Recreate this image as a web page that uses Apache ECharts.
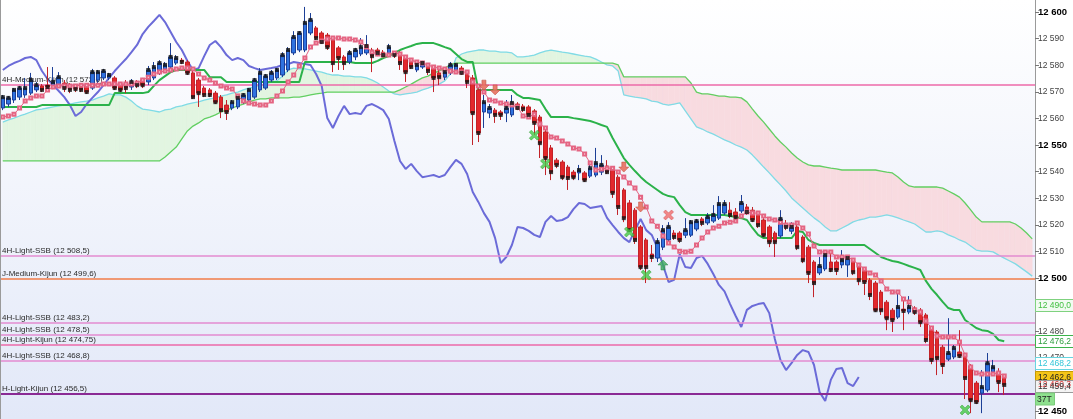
<!DOCTYPE html>
<html><head><meta charset="utf-8">
<script src="https://cdn.jsdelivr.net/npm/echarts@6/dist/echarts.min.js"></script>
<style>html,body{margin:0;padding:0;background:#fff}#c{width:1073px;height:419px}</style>
</head><body><div id="c"></div><script>
const opens = [12563.9,12565.4,12566.9,12568.0,12568.8,12569.5,12570.7,12572.2,12572.5,12571.8,
12572.5,12573.3,12572.5,12572.2,12572.5,12572.2,12571.4,12574.4,12575.2,12575.2,
12575.2,12572.5,12572.5,12571.8,12573.7,12574.4,12573.7,12575.2,12577.1,12578.2,
12579.3,12580.8,12581.9,12581.2,12577.1,12574.4,12571.4,12570.7,12569.5,12568.0,
12565.0,12563.9,12564.3,12566.1,12566.9,12568.0,12570.7,12571.4,12574.4,12575.2,
12576.3,12578.2,12584.6,12585.7,12585.7,12592.1,12594.0,12592.1,12591.3,12589.5,
12586.5,12583.1,12581.2,12583.1,12584.2,12584.6,12585.7,12585.7,12584.9,12583.8,
12584.6,12584.6,12582.7,12581.2,12578.2,12579.3,12580.1,12578.9,12577.1,12575.5,
12577.1,12577.4,12578.9,12577.1,12575.2,12570.7,12562.4,12562.0,12563.1,12562.4,
12562.0,12561.3,12565.4,12564.6,12564.3,12562.8,12560.5,12554.9,12548.9,12544.3,
12543.6,12541.7,12539.8,12539.5,12539.5,12538.3,12538.7,12539.8,12542.1,12541.3,
12537.9,12533.1,12528.2,12525.5,12519.2,12514.3,12509.0,12507.5,12511.6,12514.3,
12516.9,12516.9,12516.1,12516.1,12518.4,12522.2,12520.7,12521.4,12522.5,12524.4,
12525.5,12524.8,12525.2,12526.7,12525.5,12524.4,12521.8,12519.2,12516.9,12515.8,
12520.3,12517.6,12519.2,12515.4,12511.6,12506.0,12501.9,12503.4,12506.0,12506.0,
12504.9,12504.9,12506.7,12504.5,12503.0,12499.2,12498.1,12494.7,12490.9,12487.9,
12485.3,12488.3,12487.2,12488.7,12487.9,12486.1,12481.2,12479.7,12474.0,12469.5,
12470.3,12472.2,12471.0,12466.9,12460.5,12456.7,12457.9,12464.6,12464.6,12463.1];
const highs = [12568.8,12568.4,12571.4,12572.2,12575.2,12577.1,12573.7,12572.9,12579.3,12579.3,
12577.4,12574.4,12573.3,12572.9,12573.3,12572.9,12578.6,12578.2,12578.6,12577.1,
12575.9,12573.7,12574.4,12574.8,12574.4,12575.2,12579.7,12581.2,12581.9,12581.2,
12588.3,12583.8,12582.7,12581.9,12578.2,12575.2,12572.2,12571.4,12570.3,12568.8,
12566.9,12566.9,12568.4,12569.5,12571.4,12575.2,12578.9,12576.7,12578.2,12578.9,
12584.9,12586.8,12592.8,12592.8,12601.9,12599.6,12594.7,12592.8,12592.1,12590.2,
12587.2,12583.8,12585.7,12586.5,12590.2,12591.3,12586.5,12586.5,12585.7,12588.0,
12585.3,12585.3,12583.4,12581.9,12581.2,12581.6,12580.8,12579.7,12578.2,12578.2,
12581.2,12580.8,12579.7,12577.8,12576.3,12571.4,12568.8,12565.4,12563.9,12563.1,
12566.9,12568.8,12566.1,12565.4,12565.0,12563.5,12561.3,12555.6,12550.0,12545.1,
12544.3,12542.5,12540.6,12542.5,12540.2,12542.5,12548.9,12546.2,12544.3,12542.1,
12538.7,12533.8,12529.3,12526.3,12519.9,12515.0,12512.4,12515.0,12519.9,12521.0,
12518.0,12517.6,12522.5,12521.8,12522.2,12522.9,12524.4,12527.4,12530.8,12529.3,
12528.5,12526.3,12531.2,12527.8,12526.7,12525.2,12522.5,12519.9,12517.6,12525.5,
12521.8,12521.0,12521.0,12516.1,12512.4,12506.7,12507.9,12509.8,12509.4,12506.7,
12510.5,12508.6,12507.5,12505.2,12503.7,12500.0,12498.9,12495.5,12491.7,12488.7,
12494.3,12492.8,12493.2,12489.4,12488.7,12486.8,12481.9,12480.4,12474.8,12484.9,
12474.8,12480.4,12471.8,12467.6,12461.3,12465.4,12471.8,12469.2,12466.1,12463.9];
const lows = [12563.1,12564.3,12565.8,12566.9,12567.7,12568.8,12569.9,12569.9,12571.0,12571.0,
12571.8,12569.9,12569.5,12569.9,12569.9,12569.2,12570.7,12573.3,12574.4,12574.4,
12570.7,12569.9,12569.5,12570.7,12571.4,12571.4,12572.5,12574.4,12576.3,12577.4,
12578.6,12580.1,12580.4,12576.3,12567.3,12564.3,12568.0,12568.0,12565.4,12560.1,
12559.4,12563.1,12563.5,12565.4,12566.1,12567.3,12569.9,12570.7,12573.7,12574.4,
12575.5,12577.4,12583.8,12584.9,12584.9,12591.3,12589.5,12588.0,12585.7,12577.4,
12578.2,12578.2,12580.4,12581.9,12583.4,12583.8,12577.4,12583.4,12583.1,12583.1,
12582.7,12578.2,12573.7,12578.6,12577.4,12578.6,12576.3,12569.9,12572.5,12574.4,
12576.3,12576.7,12576.3,12571.4,12550.0,12551.1,12556.4,12560.1,12558.3,12559.4,
12558.6,12560.5,12563.1,12562.4,12560.5,12553.7,12545.1,12538.7,12536.8,12541.3,
12536.8,12533.1,12536.8,12536.8,12536.1,12537.6,12537.9,12538.7,12539.1,12530.1,
12523.7,12521.0,12517.3,12512.8,12503.0,12498.1,12506.0,12506.0,12510.5,12513.5,
12514.3,12513.2,12515.0,12515.4,12517.6,12519.5,12519.9,12520.7,12521.8,12523.7,
12522.5,12521.8,12524.4,12523.7,12521.0,12518.8,12515.4,12511.6,12507.9,12515.0,
12518.0,12516.5,12510.5,12505.6,12498.1,12492.8,12501.1,12502.6,12502.2,12501.1,
12503.7,12500.4,12501.1,12497.3,12493.6,12491.7,12487.2,12486.1,12480.4,12479.7,
12484.6,12480.4,12486.4,12486.1,12481.6,12475.5,12467.6,12463.5,12463.9,12468.8,
12469.5,12469.9,12454.5,12449.2,12452.6,12449.2,12457.1,12463.9,12457.1,12456.0];
const closes = [12568.0,12567.7,12570.7,12571.4,12571.4,12574.4,12572.5,12570.7,12571.8,12573.7,
12575.5,12571.4,12570.7,12571.0,12570.7,12569.9,12577.4,12577.4,12577.8,12576.3,
12571.4,12570.7,12571.4,12573.7,12572.5,12572.5,12578.2,12579.3,12580.8,12580.1,
12583.1,12582.7,12581.2,12577.1,12568.0,12569.5,12568.8,12568.8,12566.1,12563.1,
12562.4,12566.1,12567.7,12568.8,12570.7,12574.4,12577.1,12575.9,12577.1,12578.2,
12583.8,12585.7,12590.6,12592.1,12595.9,12597.0,12590.2,12588.7,12586.8,12580.8,
12582.7,12580.8,12584.6,12585.7,12586.8,12587.2,12583.4,12584.6,12583.8,12586.8,
12583.8,12580.8,12577.4,12579.3,12580.1,12580.8,12577.8,12575.2,12575.5,12577.4,
12580.1,12580.1,12577.1,12573.7,12562.0,12554.5,12566.1,12563.9,12561.3,12561.3,
12563.9,12565.8,12563.9,12563.5,12561.3,12558.3,12550.7,12545.1,12539.8,12542.5,
12537.9,12537.6,12537.9,12540.6,12536.8,12541.3,12543.2,12542.5,12539.8,12532.0,
12526.7,12522.5,12518.0,12514.3,12504.1,12504.1,12507.9,12513.5,12518.0,12519.2,
12515.4,12514.3,12518.0,12521.0,12521.4,12520.7,12522.9,12523.7,12527.8,12527.8,
12523.7,12522.9,12528.2,12524.8,12521.8,12519.9,12516.1,12513.5,12513.5,12522.2,
12519.2,12519.2,12511.6,12506.7,12501.9,12498.1,12504.5,12508.6,12503.0,12503.0,
12506.7,12507.5,12502.2,12499.2,12498.5,12493.6,12487.9,12487.9,12484.9,12484.2,
12489.1,12487.6,12489.1,12487.2,12483.4,12476.7,12469.2,12469.9,12467.3,12471.8,
12473.7,12470.7,12462.4,12454.1,12453.4,12459.0,12468.0,12466.5,12460.9,12459.8];
const tenkan = [12560.5,12560.9,12561.6,12563.9,12566.5,12567.7,12568.4,12568.4,12570.7,12571.8,
12572.2,12572.2,12572.2,12572.2,12572.5,12572.5,12572.5,12572.5,12572.9,12572.9,
12572.9,12572.9,12572.9,12572.9,12573.3,12574.4,12575.5,12576.7,12577.4,12577.8,
12578.2,12578.6,12578.9,12578.9,12578.6,12576.7,12575.2,12574.4,12573.3,12572.2,
12571.4,12571.0,12568.4,12566.5,12565.8,12565.4,12565.0,12565.0,12566.5,12568.4,
12570.3,12573.7,12576.3,12579.7,12582.7,12586.8,12588.3,12589.1,12589.8,12590.2,
12590.2,12589.8,12589.8,12589.5,12588.7,12586.8,12584.9,12584.2,12583.8,12583.8,
12584.6,12584.2,12583.1,12581.9,12581.2,12580.8,12580.1,12579.3,12578.9,12578.6,
12577.8,12577.4,12577.4,12577.4,12573.7,12572.2,12569.9,12566.9,12566.5,12565.8,
12565.4,12565.0,12564.3,12560.9,12560.5,12561.6,12557.9,12556.4,12553.0,12552.6,
12551.5,12550.4,12548.9,12548.5,12546.6,12543.2,12540.6,12541.0,12541.3,12541.3,
12539.8,12538.0,12535.7,12533.8,12530.4,12526.7,12521.4,12519.5,12515.8,12513.2,
12511.7,12510.1,12509.8,12510.1,12512.4,12515.0,12517.3,12518.8,12519.5,12520.7,
12521.0,12521.4,12523.3,12524.8,12524.4,12524.4,12523.3,12522.2,12521.8,12521.0,
12519.9,12519.9,12520.7,12518.8,12516.5,12512.0,12509.8,12509.8,12509.8,12507.9,
12507.9,12507.9,12506.8,12504.9,12503.4,12501.9,12501.1,12498.9,12495.9,12494.7,
12494.7,12492.1,12491.0,12488.0,12487.2,12483.8,12481.2,12478.2,12477.8,12477.8,
12477.8,12475.9,12471.1,12466.5,12464.3,12463.9,12463.9,12463.9,12464.3,12463.2];
const kijun = [12564.3,12564.3,12564.3,12564.3,12564.3,12564.3,12564.3,12565.0,12565.0,12565.0,
12565.0,12565.0,12565.0,12565.0,12565.0,12565.0,12565.0,12565.0,12565.0,12565.0,
12569.5,12569.5,12569.5,12569.5,12569.5,12569.5,12569.9,12572.2,12574.4,12575.9,
12577.4,12578.2,12578.2,12578.2,12578.2,12578.2,12578.2,12575.5,12575.5,12575.5,
12573.7,12573.7,12573.7,12573.7,12573.7,12573.7,12573.7,12573.7,12573.7,12573.7,
12573.7,12573.7,12573.7,12573.7,12581.2,12581.2,12581.2,12581.2,12581.2,12581.2,
12581.2,12581.2,12581.2,12580.8,12580.8,12580.8,12580.8,12581.6,12582.7,12583.4,
12584.6,12585.7,12586.5,12587.2,12588.0,12588.3,12588.3,12588.3,12587.6,12586.8,
12586.1,12584.2,12582.3,12581.2,12581.2,12570.7,12570.7,12570.7,12570.7,12570.7,
12570.7,12570.7,12568.8,12567.7,12567.7,12567.3,12566.9,12563.5,12560.5,12560.5,
12560.5,12560.5,12560.1,12559.8,12559.4,12559.0,12558.3,12557.5,12556.8,12552.6,
12548.9,12545.1,12542.5,12540.2,12538.0,12536.1,12534.6,12533.1,12531.6,12530.8,
12530.4,12527.4,12524.8,12523.7,12523.7,12523.7,12523.7,12523.7,12523.7,12523.7,
12523.3,12522.9,12522.5,12521.8,12518.8,12516.2,12515.0,12515.0,12515.0,12515.0,
12515.0,12515.0,12517.7,12517.3,12514.3,12513.2,12512.4,12512.4,12512.4,12512.4,
12512.4,12512.4,12512.4,12512.4,12512.4,12510.9,12509.4,12507.9,12507.1,12506.4,
12506.0,12505.3,12504.5,12503.8,12503.0,12498.9,12495.9,12493.6,12491.0,12488.7,
12488.0,12488.0,12484.2,12482.7,12481.2,12480.4,12480.1,12479.0,12476.7,12476.2];
const chikou = [12578.2,12579.7,12580.8,12581.6,12582.7,12583.1,12581.9,12577.8,12574.8,12572.5,
12570.3,12568.0,12565.0,12560.9,12562.4,12565.4,12567.7,12569.9,12572.5,12575.2,
12577.8,12580.1,12582.3,12584.9,12587.6,12591.7,12594.4,12596.6,12598.9,12596.2,
12592.5,12588.7,12585.7,12581.6,12578.2,12578.9,12583.4,12587.6,12589.1,12586.8,
12583.8,12581.9,12582.7,12581.9,12579.7,12578.9,12578.2,12578.6,12578.9,12579.3,
12580.1,12580.4,12581.2,12580.8,12580.4,12580.1,12576.7,12572.2,12560.1,12556.4,
12560.9,12564.7,12561.6,12562.0,12561.6,12564.7,12565.4,12564.3,12563.1,12559.8,
12551.5,12544.0,12541.0,12542.9,12540.2,12537.9,12538.3,12538.7,12537.9,12538.7,
12541.7,12544.4,12542.9,12539.1,12532.3,12528.6,12524.4,12521.1,12515.0,12505.6,
12507.9,12512.4,12519.2,12518.8,12517.7,12516.2,12515.4,12521.1,12523.3,12521.4,
12521.8,12522.9,12525.9,12528.2,12527.8,12526.3,12526.7,12527.1,12522.6,12519.9,
12517.3,12515.0,12513.5,12518.0,12522.2,12518.0,12516.2,12511.3,12504.9,12498.5,
12499.3,12509.0,12504.1,12503.8,12507.5,12508.3,12505.3,12501.5,12497.4,12495.0,
12490.2,12485.7,12481.6,12488.0,12489.5,12490.2,12490.6,12486.8,12477.1,12469.2,
12465.4,12468.1,12471.1,12472.9,12472.2,12467.3,12457.1,12453.8,12461.7,12465.8,
12466.2,12460.5,12459.4,12462.8];
const ssa = [12558.6,12559.4,12560.1,12560.9,12561.6,12562.4,12563.2,12563.5,12563.9,12564.3,
12564.7,12565.0,12565.4,12565.8,12566.2,12566.5,12566.9,12567.7,12568.4,12569.2,
12568.8,12568.8,12568.0,12566.5,12564.7,12563.5,12563.2,12562.8,12562.4,12563.2,
12563.5,12564.3,12564.7,12565.4,12565.8,12566.2,12566.9,12567.3,12567.7,12568.4,
12568.8,12569.5,12569.9,12570.7,12571.4,12571.8,12572.5,12572.9,12573.7,12574.1,
12575.9,12578.2,12578.9,12578.6,12578.6,12578.2,12577.8,12577.4,12576.7,12576.3,
12576.3,12575.9,12575.9,12575.6,12575.6,12575.2,12574.4,12573.3,12571.8,12570.3,
12569.2,12568.8,12569.2,12569.5,12569.9,12570.7,12571.4,12572.2,12572.9,12574.1,
12576.7,12582.7,12584.2,12584.9,12585.3,12585.7,12585.7,12585.3,12585.3,12584.9,
12584.9,12584.6,12583.1,12583.1,12583.4,12583.8,12584.6,12585.3,12585.7,12585.3,
12584.9,12584.6,12584.2,12583.8,12583.4,12583.1,12582.3,12581.2,12580.1,12579.7,
12577.8,12568.8,12568.4,12568.0,12567.7,12567.3,12566.5,12566.2,12565.4,12565.0,
12565.4,12565.8,12562.8,12559.8,12556.8,12556.0,12554.9,12554.1,12553.0,12551.9,
12551.1,12550.0,12549.2,12548.1,12546.2,12544.0,12541.7,12539.5,12537.2,12535.0,
12532.7,12530.1,12528.2,12526.3,12524.4,12522.6,12521.1,12519.2,12517.7,12517.7,
12518.8,12519.9,12521.1,12521.8,12522.2,12522.9,12522.9,12523.3,12523.7,12523.3,
12522.6,12521.8,12521.1,12520.3,12518.8,12517.3,12517.3,12517.7,12517.3,12516.2,
12515.4,12514.3,12513.5,12512.0,12510.5,12510.1,12510.1,12509.8,12508.6,12507.5,
12506.4,12505.3,12503.8,12502.3,12500.7];
const ssb = [12544.0,12544.0,12544.0,12544.0,12544.0,12544.0,12544.0,12544.0,12544.0,12544.0,
12544.0,12544.0,12544.0,12544.0,12544.0,12544.0,12544.0,12544.0,12544.0,12544.0,
12544.0,12544.0,12544.0,12544.0,12544.0,12544.0,12544.0,12544.0,12544.0,12545.5,
12547.4,12549.2,12552.3,12555.3,12557.1,12558.3,12559.8,12560.5,12561.3,12562.4,
12563.2,12563.9,12564.7,12565.4,12566.2,12566.9,12567.3,12567.3,12567.7,12567.7,
12567.7,12567.7,12568.0,12568.0,12568.4,12568.8,12569.2,12569.5,12569.9,12569.9,
12569.9,12569.9,12569.9,12569.9,12569.9,12569.9,12569.9,12569.9,12569.9,12569.9,
12569.9,12570.7,12571.8,12572.9,12574.1,12575.2,12575.9,12577.1,12577.8,12578.9,
12580.1,12580.8,12580.8,12580.8,12580.8,12580.8,12580.8,12580.8,12580.8,12580.8,
12580.8,12580.8,12580.8,12580.8,12580.8,12580.8,12580.8,12580.8,12580.8,12580.8,
12580.8,12580.8,12580.8,12580.8,12580.8,12580.8,12580.8,12580.8,12580.8,12580.8,
12580.1,12575.6,12575.6,12575.6,12575.6,12575.6,12575.6,12575.6,12575.6,12575.6,
12575.6,12575.6,12575.6,12573.3,12569.9,12569.2,12569.2,12568.8,12568.4,12568.4,
12568.0,12568.0,12567.7,12566.2,12563.5,12560.9,12558.6,12556.0,12553.4,12551.1,
12549.2,12547.0,12545.1,12543.6,12542.5,12542.1,12542.1,12541.7,12541.3,12541.0,
12540.6,12540.6,12540.6,12540.6,12540.6,12540.6,12540.6,12540.2,12539.8,12539.5,
12538.0,12536.1,12534.6,12534.2,12534.2,12534.2,12534.2,12534.2,12533.8,12532.7,
12531.6,12530.4,12528.2,12525.6,12522.9,12521.1,12521.1,12521.1,12521.1,12521.1,
12521.1,12520.3,12518.8,12516.9,12514.7];
const levelNames = ['4H-Medium-Kijun','4H-Light-SSB','J-Medium-Kijun','4H-Light-SSB','4H-Light-SSB','4H-Light-Kijun','4H-Light-SSB','H-Light-Kijun'];
const levelValues = [12572.6,12508.5,12499.6,12483.2,12478.5,12474.75,12468.8,12456.5];
const yTicks = [12450,12460,12470,12480,12490,12500,12510,12520,12530,12540,12550,12560,12570,12580,12590,12600];
const tagValues = [12490.0,12476.2,12468.2,12460.3,12462.6,12459.4];
const timerText = '37T';
const greenCrosses = [[95,12553.7],[97,12542.9],[112,12517.3],[115,12501.1],[172,12450.4]];
const redCrosses = [[119,12523.7]];
const redArrowsDown = [[86,12572.5],[88,12570.7],[111,12541.7],[114,12526.7]];
const greenArrowsUp = [[118,12504.9]];

function hasFont(name) {
  const c = document.createElement('canvas').getContext('2d');
  const s = '12 345,6 ABCabcKijun';
  c.font = '20px monospace'; const w0 = c.measureText(s).width;
  c.font = '20px "' + name + '", monospace'; const w1 = c.measureText(s).width;
  return Math.abs(w1 - w0) > 0.5;
}
const NARROW = hasFont('Liberation Sans Narrow');
const F = NARROW ? '"Liberation Sans Narrow", "Liberation Sans", Arial, sans-serif' : '"Liberation Sans", Arial, sans-serif';
const SZ = NARROW ? { lvl: 10, tag: 10, axN: 10, axB: 11 } : { lvl: 8, tag: 8.5, axN: 8.5, axB: 9.5 };

function fmt(v){ const s = String(v); const parts = s.split('.'); const g = parts[0].replace(/\B(?=(\d{3})+(?!\d))/g,' '); return parts.length > 1 ? g + ',' + parts[1] : g; }
const slots = ssa.map((_, i) => i);
const levelColors = ['#ec6aa8','#e38bd0','#f27c48','#e38bd0','#e38bd0','#ec6aa8','#e38bd0','#8a2a94'];
const levelWidths = [1.5,1.5,1.5,1.5,1.5,1.5,1.5,2];
const GREEN_FILL = '#e2f5e1', PINK_FILL = '#f8dbe0';
const XPATH = 'path://M2,0 L5,3 L8,0 L10,2 L7,5 L10,8 L8,10 L5,7 L2,10 L0,8 L3,5 L0,2 Z';
const DOWN = 'path://M3,0 L7,0 L7,5 L10,5 L5,10 L0,5 L3,5 Z';
const UP = 'path://M5,0 L10,5 L7,5 L7,10 L3,10 L3,5 L0,5 Z';

const chart = echarts.init(document.getElementById('c'));
const option = {
  animation: false,
  backgroundColor: '#ffffff',
  grid: { left: 0, right: 38, top: 0, bottom: 0, show: true, borderWidth: 0,
    backgroundColor: new echarts.graphic.LinearGradient(0,0,0,1,[{offset:0,color:'#ffffff'},{offset:1,color:'#e2e8f8'}]) },
  xAxis: { type: 'category', data: slots, boundaryGap: true, show: false },
  yAxis: { type: 'value', position: 'right', min: 12447, max: 12604.5, scale: true,
    splitLine: { show: false },
    axisLine: { show: true, lineStyle: { color: '#9a9a9a', width: 1 } },
    axisTick: { show: true, length: 4, lineStyle: { color: '#777' }, customValues: yTicks },
    axisLabel: { margin: 3, customValues: yTicks, fontFamily: F,
      formatter: v => (v % 50 === 0 ? '{b|' + fmt(v) + '}' : '{n|' + fmt(v) + '}'),
      rich: { b: { fontSize: SZ.axB, fontWeight: 'bold', color: '#000', fontFamily: F }, n: { fontSize: SZ.axN, color: '#444', fontFamily: F } } } },
  series: [
    { type: 'custom', z: 1, silent: true, clip: true,
      data: slots.slice(0, slots.length - 1).map(i => [i, ssa[i]]),
      renderItem: (params, api) => {
        const i = api.value(0);
        const a0 = ssa[i], a1 = ssa[i+1], b0 = ssb[i], b1 = ssb[i+1];
        const pA0 = api.coord([i, a0]), pA1 = api.coord([i+1, a1]);
        const pB0 = api.coord([i, b0]), pB1 = api.coord([i+1, b1]);
        const d0 = a0 - b0, d1 = a1 - b1;
        const col = d => (d >= 0 ? GREEN_FILL : PINK_FILL);
        if (d0 * d1 >= 0) {
          const c = col(d0 + d1);
          return { type: 'polygon', shape: { points: [pA0, pA1, pB1, pB0] }, style: { fill: c, stroke: c, lineWidth: 0.6 } };
        }
        const t = d0 / (d0 - d1);
        const pc = [pA0[0] + t * (pA1[0] - pA0[0]), pA0[1] + t * (pA1[1] - pA0[1])];
        return { type: 'group', children: [
          { type: 'polygon', shape: { points: [pA0, pc, pB0] }, style: { fill: col(d0), stroke: col(d0), lineWidth: 0.6 } },
          { type: 'polygon', shape: { points: [pc, pA1, pB1] }, style: { fill: col(d1), stroke: col(d1), lineWidth: 0.6 } }
        ] };
      } },
    { type: 'line', data: ssa, symbol: 'none', z: 2, silent: true, lineStyle: { color: '#80dbe6', width: 1.3 } },
    { type: 'line', data: ssb, symbol: 'none', z: 2, silent: true, lineStyle: { color: '#62cf62', width: 1.3 } },
    { type: 'line', data: [], z: 2, silent: true,
      markLine: { silent: true, symbol: ['none','none'], animation: false,
        data: levelValues.map((v, k) => ({ yAxis: v,
          lineStyle: { color: levelColors[k], width: levelWidths[k], type: 'solid' },
          label: { show: true, position: 'insideStartTop', distance: [2, 1], formatter: levelNames[k] + ' (' + fmt(v) + ')',
            color: '#2a2a2a', fontSize: SZ.lvl, fontFamily: F } })) } },
    { type: 'line', data: chikou, symbol: 'none', z: 3, silent: true, lineStyle: { color: '#6b6bd8', width: 2 } },
    { type: 'line', data: kijun, symbol: 'none', z: 4, silent: true, lineStyle: { color: '#2bb24a', width: 2 } },
    { type: 'candlestick', z: 5, barWidth: 4, silent: true,
      data: opens.map((o, i) => [o, closes[i], lows[i], highs[i]]),
      itemStyle: { color: '#2f72e0', color0: '#e3282c', borderColor: '#1c3f96', borderColor0: '#c22329', borderWidth: 1 } },
    { type: 'line', data: tenkan, z: 6, silent: true, symbol: 'emptyRect', symbolSize: 3, showAllSymbol: true,
      lineStyle: { color: '#e46482', width: 1 }, itemStyle: { color: '#e46482', borderWidth: 1 } },
    { type: 'scatter', z: 7, silent: true, symbol: 'rect', symbolSize: 4,
      data: closes.map((c, i) => [i, c]), itemStyle: { color: '#111' } },
    { type: 'scatter', z: 8, silent: true, symbol: XPATH, symbolSize: 10, data: greenCrosses,
      itemStyle: { color: '#45c845', borderColor: '#2e9a2e', borderWidth: 0.6 } },
    { type: 'scatter', z: 8, silent: true, symbol: XPATH, symbolSize: 10, data: redCrosses,
      itemStyle: { color: '#f06a6a', borderColor: '#d04545', borderWidth: 0.6 } },
    { type: 'scatter', z: 8, silent: true, symbol: DOWN, symbolSize: 10, data: redArrowsDown,
      itemStyle: { color: '#e8705f', borderColor: '#c0503f', borderWidth: 0.6, opacity: 0.9 } },
    { type: 'scatter', z: 8, silent: true, symbol: UP, symbolSize: 10, data: greenArrowsUp,
      itemStyle: { color: '#3aab5a', borderColor: '#2a8040', borderWidth: 0.6 } }
  ]
};
chart.setOption(option);

const tagStyles = [
  { fill: '#f1fbf1', stroke: '#7fd27f', text: '#43c043' },
  { fill: '#ffffff', stroke: '#3cb44b', text: '#2e9e3e' },
  { fill: '#ffffff', stroke: '#67d5e0', text: '#33c6d8' },
  { fill: '#ffffff', stroke: '#e88888', text: '#e03a3a' },
  { fill: '#f5c518', stroke: '#c89a00', text: '#222222' },
  { fill: '#f4f4f4', stroke: '#9a9a9a', text: '#333333' }
];
const els = [];
tagValues.forEach((v, k) => {
  const y = chart.convertToPixel({ yAxisIndex: 0 }, v);
  const s = tagStyles[k];
  els.push({ type: 'group', x: 1035, y: Math.round(y) - 6, z: 100, children: [
    { type: 'rect', shape: { x: 0.5, y: 0.5, width: 38, height: 12 }, style: { fill: s.fill, stroke: s.stroke, lineWidth: 1 }, z: 100 },
    { type: 'text', x: 3, y: 2, z: 101, style: { text: fmt(v.toFixed(1)), fill: s.text, font: SZ.tag + 'px ' + F } }
  ] });
});
const yLast = chart.convertToPixel({ yAxisIndex: 0 }, tagValues[tagValues.length - 1]);
els.push({ type: 'group', x: 1035, y: Math.round(yLast) + 7, z: 100, children: [
  { type: 'rect', shape: { x: 0.5, y: 0, width: 19, height: 12 }, style: { fill: '#8ee08e', stroke: '#7acc7a', lineWidth: 1 }, z: 100 },
  { type: 'text', x: 2, y: 2, z: 101, style: { text: timerText, fill: '#222', font: SZ.tag + 'px ' + F } }
] });
els.push({ type: 'line', shape: { x1: 0.5, y1: 0, x2: 0.5, y2: 419 }, style: { stroke: '#9a9a9a', lineWidth: 1 }, z: 100 });
chart.setOption({ graphic: { elements: els } });
</script></body></html>
